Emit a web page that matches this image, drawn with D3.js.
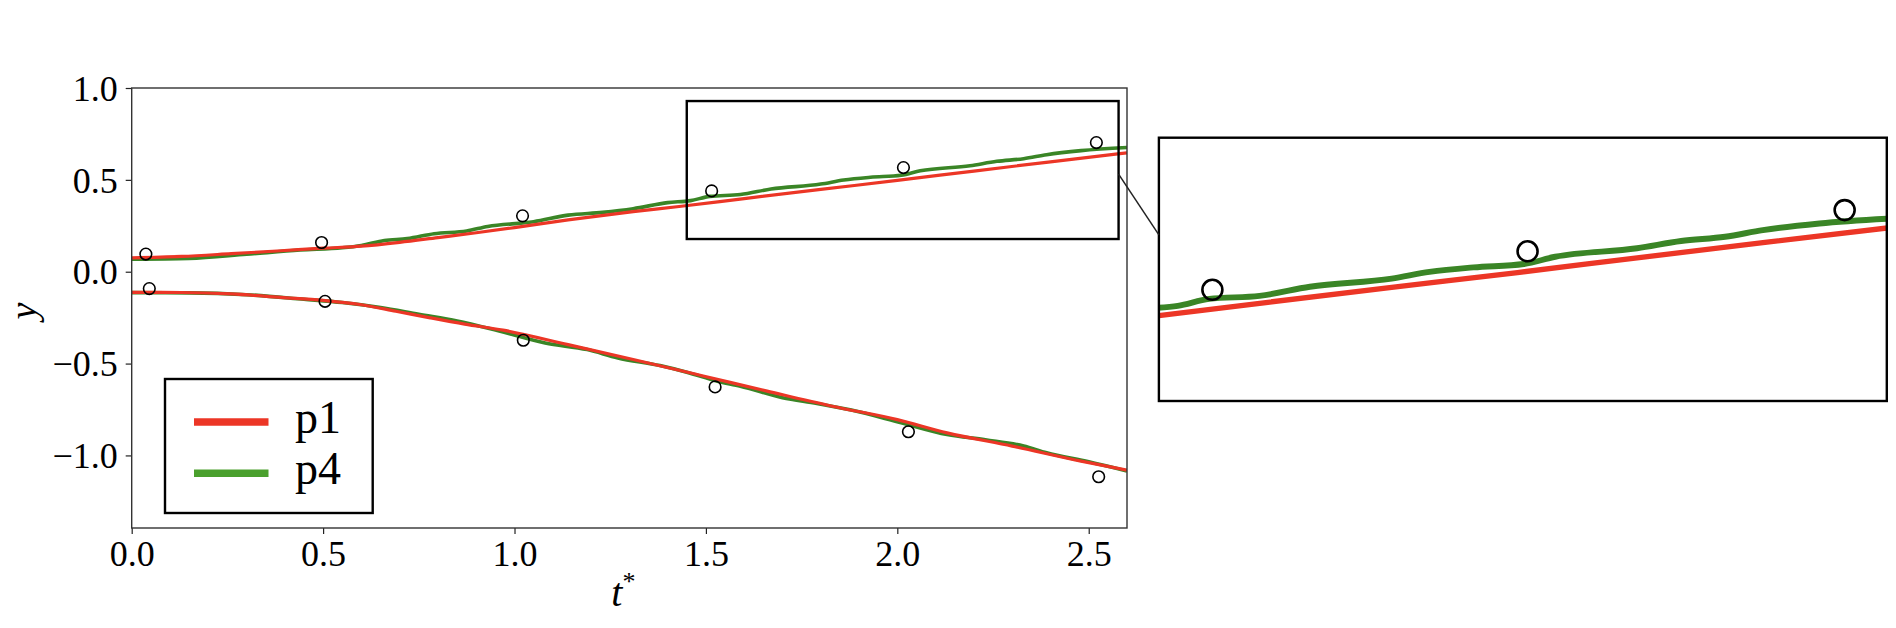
<!DOCTYPE html>
<html><head><meta charset="utf-8">
<script src="https://cdn.jsdelivr.net/npm/d3@7"></script>
<style>body{margin:0;background:#fff}svg{display:block}</style>
</head><body>
<svg id="c" width="1896" height="628"></svg>
<script>
// ---- data ----
const p1UpperT = [0, 0.13, 0.26, 0.39, 0.5, 0.6, 0.7, 0.8, 0.9, 1.0, 1.14, 1.31, 1.43, 1.6, 1.8, 2.0, 2.2, 2.4, 2.6];
const p1UpperY = [0.075, 0.083, 0.098, 0.114, 0.128, 0.139, 0.160, 0.186, 0.212, 0.240, 0.282, 0.327, 0.355, 0.398, 0.448, 0.497, 0.548, 0.598, 0.647];
const p4UpperT = [0, 0.15, 0.3, 0.44, 0.55, 0.6, 0.66, 0.72, 0.79, 0.875, 0.93, 1.05, 1.14, 1.23, 1.31, 1.4, 1.46, 1.51, 1.59, 1.67, 1.8, 1.86, 1.93, 2.01, 2.06, 2.19, 2.26, 2.33, 2.39, 2.48, 2.6];
const p4UpperY = [0.068, 0.072, 0.095, 0.118, 0.130, 0.143, 0.170, 0.180, 0.207, 0.222, 0.246, 0.272, 0.308, 0.323, 0.343, 0.376, 0.387, 0.410, 0.420, 0.450, 0.477, 0.499, 0.514, 0.525, 0.549, 0.577, 0.601, 0.615, 0.637, 0.659, 0.676];
const p1LowerT = [0, 0.13, 0.26, 0.39, 0.5, 0.6, 0.69, 0.78, 0.87, 0.97, 1.14, 1.31, 1.49, 1.66, 1.83, 2.0, 2.13, 2.3, 2.48, 2.6];
const p1LowerY = [-0.112, -0.113, -0.121, -0.140, -0.156, -0.180, -0.215, -0.251, -0.285, -0.318, -0.397, -0.478, -0.566, -0.650, -0.732, -0.805, -0.877, -0.949, -1.031, -1.080];
const p4LowerT = [0, 0.15, 0.3, 0.45, 0.55, 0.65, 0.75, 0.85, 0.96, 1.08, 1.19, 1.27, 1.38, 1.45, 1.53, 1.59, 1.7, 1.79, 1.88, 2.01, 2.13, 2.23, 2.33, 2.39, 2.5, 2.6];
const p4LowerY = [-0.114, -0.115, -0.125, -0.150, -0.168, -0.195, -0.232, -0.268, -0.323, -0.388, -0.424, -0.469, -0.511, -0.547, -0.596, -0.623, -0.686, -0.717, -0.753, -0.822, -0.886, -0.915, -0.949, -0.986, -1.035, -1.085];
const obsUpperT = [0.037, 0.496, 1.021, 1.515, 2.016, 2.520];
const obsUpperY = [0.096, 0.159, 0.304, 0.440, 0.567, 0.703];
const obsLowerT = [0.046, 0.505, 1.023, 1.524, 2.029, 2.526];
const obsLowerY = [-0.092, -0.161, -0.373, -0.627, -0.871, -1.116];
const xTicks = [0.0, 0.5, 1.0, 1.5, 2.0, 2.5];
const yTicks = [-1.0, -0.5, 0.0, 0.5, 1.0];
const legendLabels = ["p1", "p4"];
const xDomain = [0, 2.6], yDomain = [-1.395, 1.0];
const zoomBoxX = [1.45, 2.578], zoomBoxY = [0.178, 0.929];
const insetX = [1.43, 2.587], insetY = [0.073, 0.942];

// ---- styles ----
const RED = "#ec3626", GREEN = "#3a8526", GREEN_LEG = "#4aa02d";
const FONT = "'Liberation Serif', 'DejaVu Serif', serif";

const svg = d3.select("#c");
svg.append("rect").attr("width",1896).attr("height",628).attr("fill","#fff");

const M = {l:131.7, r:1127, t:88, b:528};
const x = d3.scaleLinear(xDomain, [M.l, M.r]);
const y = d3.scaleLinear(yDomain, [M.b, M.t]);

const I = {l:1158.9, r:1886.8, t:137.7, b:401};
const xi = d3.scaleLinear(insetX, [I.l, I.r]);
const yi = d3.scaleLinear(insetY, [I.b, I.t]);

const defs = svg.append("defs");
defs.append("clipPath").attr("id","cm").append("rect").attr("x",M.l).attr("y",M.t).attr("width",M.r-M.l).attr("height",M.b-M.t);
defs.append("clipPath").attr("id","ci").append("rect").attr("x",I.l).attr("y",I.t).attr("width",I.r-I.l).attr("height",I.b-I.t);

const zip = (a,b)=>a.map((v,i)=>[v,b[i]]);
const series = [
  {t:p4UpperT, v:p4UpperY, c:GREEN, w:3.6},
  {t:p4LowerT, v:p4LowerY, c:GREEN, w:3.6},
  {t:p1UpperT, v:p1UpperY, c:RED, w:3.2},
  {t:p1LowerT, v:p1LowerY, c:RED, w:3.2},
];

// main plot
const gm = svg.append("g").attr("clip-path","url(#cm)");
const lineM = d3.line().x(d=>x(d[0])).y(d=>y(d[1])).curve(d3.curveMonotoneX);
series.forEach(s=>{
  gm.append("path").attr("d", lineM(zip(s.t,s.v))).attr("fill","none")
    .attr("stroke", s.c).attr("stroke-width", s.w).attr("stroke-linejoin","round");
});
const obs = zip(obsUpperT,obsUpperY).concat(zip(obsLowerT,obsLowerY));
gm.selectAll("circle.o").data(obs).join("circle").attr("class","o")
  .attr("cx",d=>x(d[0])).attr("cy",d=>y(d[1])).attr("r",5.8)
  .attr("fill","none").attr("stroke","#000").attr("stroke-width",1.6);

// zoom box on main
svg.append("rect").attr("x",x(zoomBoxX[0])).attr("y",y(zoomBoxY[1]))
  .attr("width",x(zoomBoxX[1])-x(zoomBoxX[0])).attr("height",y(zoomBoxY[0])-y(zoomBoxY[1]))
  .attr("fill","none").attr("stroke","#000").attr("stroke-width",2.4);

// axes
const fmt = d3.format(".1f");
const ax = svg.append("g").attr("transform",`translate(0,${M.b})`)
  .call(d3.axisBottom(x).tickValues(xTicks).tickFormat(fmt).tickSize(6).tickSizeOuter(0));
const ay = svg.append("g").attr("transform",`translate(${M.l},0)`)
  .call(d3.axisLeft(y).tickValues(yTicks).tickFormat(fmt).tickSize(6).tickSizeOuter(0));
[ax, ay].forEach(a=>{
  a.select(".domain").remove();
  a.selectAll(".tick line").attr("stroke","#222").attr("stroke-width",1.2);
  a.selectAll(".tick text").attr("font-family",FONT).attr("font-size",36).attr("fill","#000");
});
ax.selectAll(".tick text").attr("dy",0).attr("y",38);
ay.selectAll(".tick text").attr("x",-14).attr("dy","0.34em");

// frame
svg.append("rect").attr("x",M.l).attr("y",M.t).attr("width",M.r-M.l).attr("height",M.b-M.t)
  .attr("fill","none").attr("stroke","#333").attr("stroke-width",1.4);

// axis labels
svg.append("text").attr("transform",`translate(36,${(M.t+M.b)/2 + 3}) rotate(-90)`)
  .attr("text-anchor","middle").attr("font-family",FONT).attr("font-style","italic")
  .attr("font-size",38).text("y");
const tl = svg.append("text").attr("x",(M.l+M.r)/2 - 6).attr("y",606)
  .attr("text-anchor","middle").attr("font-family",FONT).attr("font-size",40);
tl.append("tspan").attr("font-style","italic").text("t");
tl.append("tspan").attr("font-size",26).attr("dy",-16).text("*");

// legend
const L = {x:165, y:379, w:207.7, h:134};
svg.append("rect").attr("x",L.x).attr("y",L.y).attr("width",L.w).attr("height",L.h)
  .attr("fill","#fff").attr("stroke","#000").attr("stroke-width",2.4);
const legColors = [RED, GREEN_LEG];
legendLabels.forEach((lab,i)=>{
  const yy = L.y + 43 + i*51.3;
  svg.append("line").attr("x1",L.x+29).attr("x2",L.x+103.5).attr("y1",yy).attr("y2",yy)
    .attr("stroke",legColors[i]).attr("stroke-width",7.5);
  svg.append("text").attr("x",L.x+130).attr("y",yy+11).attr("font-family",FONT)
    .attr("font-size",46).attr("fill","#000").text(lab);
});

// inset
const gi = svg.append("g").attr("clip-path","url(#ci)");
const lineI = d3.line().x(d=>xi(d[0])).y(d=>yi(d[1])).curve(d3.curveMonotoneX);
series.forEach(s=>{
  gi.append("path").attr("d", lineI(zip(s.t,s.v))).attr("fill","none")
    .attr("stroke", s.c).attr("stroke-width", s.w*1.65).attr("stroke-linejoin","round");
});
gi.selectAll("circle.o").data(obs).join("circle").attr("class","o")
  .attr("cx",d=>xi(d[0])).attr("cy",d=>yi(d[1])).attr("r",10)
  .attr("fill","none").attr("stroke","#000").attr("stroke-width",2.6);
svg.append("rect").attr("x",I.l).attr("y",I.t).attr("width",I.r-I.l).attr("height",I.b-I.t)
  .attr("fill","none").attr("stroke","#000").attr("stroke-width",2.4);

// connector from zoom box to inset
const cStart = [x(zoomBoxX[1]), y(0.531)];
const cEnd = [I.l, yi(0.621)];
svg.append("line").attr("x1",cStart[0]).attr("y1",cStart[1]).attr("x2",cEnd[0]).attr("y2",cEnd[1])
  .attr("stroke","#222").attr("stroke-width",1.5);
</script>
</body></html>
